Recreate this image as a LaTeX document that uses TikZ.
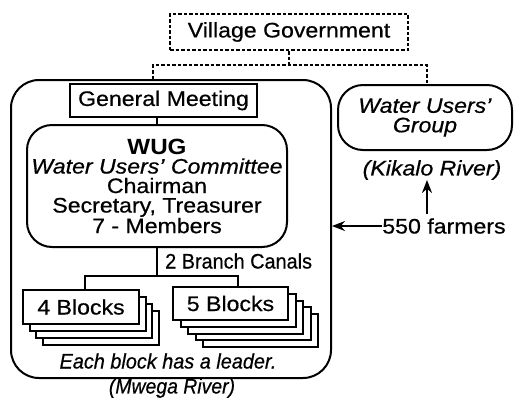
\documentclass[tikz,border=0pt]{standalone}
\usepackage{fontspec}
\setmainfont{Liberation Sans}[FakeStretch=1.1, UprightFeatures={FakeBold=0.6}, ItalicFeatures={FakeBold=0.6}]
\usetikzlibrary{arrows.meta,calc}
\tikzset{
  txt/.style={font=\fontsize{21}{19.5}\selectfont, inner sep=0pt, align=center},
  line/.style={line width=2pt},
  dsh/.style={line width=2pt, dash pattern=on 3.5pt off 2pt},
  sqbox/.style={draw, line width=2pt, txt, fill=white},
  rbox/.style={draw, line width=2pt, txt, rounded corners=25pt},
  arr/.style={line width=2pt, -{Stealth[length=13pt,width=10pt]}}
}
\begin{document}
\begin{tikzpicture}[x=1pt,y=-1pt]
\useasboundingbox (0,0) rectangle (516,399);
% top
\node[txt, draw, dsh, minimum width=238pt, minimum height=36pt] (vg) at (289,32) {Village Government};
% big box
\node[draw, line width=2pt, rounded corners=28pt, minimum width=320pt, minimum height=298pt] (big) at (171,229) {};
\node[sqbox, minimum width=187pt, minimum height=33pt] (gm) at (163.5,100.5) {General Meeting};
\node[rbox, minimum width=260pt, minimum height=122pt] (wug) at (157,186) {{\fontsize{22}{19.5}\selectfont\textbf{WUG}}\\ \textit{Water Users' Committee}\\ Chairman\\ Secretary, Treasurer\\ 7 - Members};
% right group
\node[rbox, minimum width=174pt, minimum height=65pt] (wugg) at (425,117.5) {\textit{Water Users'}\\ \textit{Group}};
\node[txt] (kik) at (432,170) {\textit{(Kikalo River)}};
\node[txt] (farm) at (444,226) {550 farmers};
% dashed connectors
\coordinate (dl) at (153,65);
\coordinate (dr) at (427,65);
\draw[dsh] (vg.south) -- (vg.south |- dl);
\draw[dsh] (dl |- big.north) -- (dl) -- (dr) -- (dr |- wugg.north);
% inner connectors
\draw[line] (gm.south -| wug.north) -- (wug.north);
\coordinate (bj) at (157,276);
\coordinate (bl) at (85,276);
\coordinate (bR) at (238,276);
\draw[line] (wug.south) -- (bj);
\node[txt, anchor=west] (canals) at (165,261) {\scalebox{0.86}[1]{2 Branch Canals}};
% block stacks
\foreach \k in {3,2,1} {
  \node[sqbox, minimum width=116pt, minimum height=34pt] (b4\k) at ($(81,307)+(6.5*\k,7*\k)$) {};
}
\node[sqbox, minimum width=116pt, minimum height=34pt] (b4) at (81,307) {4 Blocks};
\foreach \k in {4,3,2,1} {
  \node[sqbox, minimum width=115pt, minimum height=33pt] (b5\k) at ($(230.5,303.5)+(7.5*\k,6.8*\k)$) {};
}
\node[sqbox, minimum width=115pt, minimum height=33pt] (b5) at (230.5,303.5) {5 Blocks};
\draw[line] (bl |- b4.north) -- (bl) -- (bR) -- (bR |- b5.north);
\node[txt] (lead) at (168,361) {\scalebox{0.86}[1]{\textit{Each block has a leader.}}};
\node[txt] (mwega) at (172,388) {\scalebox{0.84}[1]{\textit{(Mwega River)}}};
% arrows
\coordinate (fa) at (427,214);
\draw[arr] (fa) -- (kik.south -| fa);
\draw[arr] (farm.west) -- (big.east |- farm.west);
\end{tikzpicture}
\end{document}
